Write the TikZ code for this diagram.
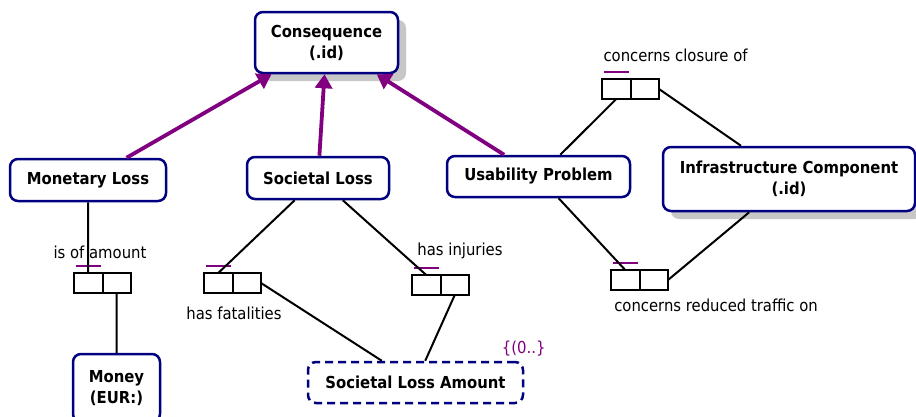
\documentclass[tikz,border=0pt]{standalone}
\usepackage{fontspec}
\setmainfont{DejaVu Sans Condensed}
\usepackage{tikz}
\usetikzlibrary{arrows.meta}
\usetikzlibrary{positioning}
\usetikzlibrary{shadows}
\definecolor{ormnavy}{HTML}{000080}
\definecolor{ormpurple}{HTML}{800080}
\newcommand{\ormsize}{\fontsize{16.5}{21}\selectfont}
\tikzstyle{entity}=[draw=ormnavy,line width=2.5pt,fill=white,rounded corners=8pt,font=\ormsize\bfseries,align=center,inner sep=2pt]
\tikzstyle{shade}=[drop shadow={shadow xshift=8pt,shadow yshift=-8pt,fill=black!22,opacity=1}]
\tikzstyle{valuetype}=[entity,dash pattern=on 8pt off 5pt]
\tikzstyle{cell}=[draw,line width=2pt,minimum width=28.5pt,minimum height=20pt,inner sep=0pt,outer sep=0pt]
\tikzstyle{ubar}=[draw=ormpurple,line width=2pt]
\tikzstyle{link}=[line width=2pt]
\tikzstyle{subtype}=[draw=ormpurple,line width=3.8pt,-{Triangle[length=14pt,width=17pt]}]

\begin{document}
\begin{tikzpicture}[x=1pt,y=-1pt,font=\ormsize]
\useasboundingbox (0,0) rectangle (916,416);
% entity and value types
\node [entity,shade,minimum width=143pt,minimum height=61pt] (cons) at (326.5,42.5) {Consequence\\(.id)};
\node [entity,minimum width=156pt,minimum height=42pt] (mon) at (88,180) {Monetary Loss};
\node [entity,minimum width=142pt,minimum height=42pt] (soc) at (318,178) {Societal Loss};
\node [entity,minimum width=183pt,minimum height=41pt] (usab) at (538.5,176.5) {Usability Problem};
\node [entity,shade,minimum width=252pt,minimum height=64pt] (infra) at (789,179) {Infrastructure Component\\(.id)};
\node [entity,minimum width=87pt,minimum height=68pt] (money) at (116.5,388) {Money\\(EUR:)};
\node [valuetype,minimum width=215pt,minimum height=41pt] (sla) at (415.5,382.5) {Societal Loss Amount};
\node [ormpurple,anchor=east] (slarange) at (549,349) {\{(0..\}};

% fact types
\node [cell] (amt1) at (88.25,283) {};
\node [cell,right=0pt of amt1] (amt2) {};
\node [cell] (fat1) at (218.25,283) {};
\node [cell,right=0pt of fat1] (fat2) {};
\node [cell] (inj1) at (426.25,285) {};
\node [cell,right=0pt of inj1] (inj2) {};
\node [cell] (clos1) at (616.25,89) {};
\node [cell,right=0pt of clos1] (clos2) {};
\node [cell] (traf1) at (625.25,280) {};
\node [cell,right=0pt of traf1] (traf2) {};

\foreach \r in {amt1,fat1,inj1,clos1,traf1}
  \draw [ubar] ([xshift=2pt,yshift=7pt]\r.north west) -- ([xshift=-2pt,yshift=7pt]\r.north east);

\node (amtlbl) at (100,252) {is of amount};
\node (fatlbl) at (234,313) {has fatalities};
\node (injlbl) at (460,251) {has injuries};
\node [anchor=west] (closlbl) at (600,55) {concerns closure of};
\node (traflbl) at (716,305) {concerns reduced traffic on};

% roles
\draw [link] (mon) -- (amt1.north);
\draw [link] (amt2.south) -- (money);
\draw [link] (soc) -- (fat1.north);
\draw [link] (fat2.east) -- (sla);
\draw [link] (soc) -- (inj1.north);
\draw [link] (inj2.south) -- (sla);
\draw [link] (clos1.south) -- (usab);
\draw [link] (clos2.east) -- (infra);
\draw [link] (usab) -- (traf1.north);
\draw [link] (traf2.east) -- (infra);

% subtypes
\draw [subtype] (mon) -- (cons);
\draw [subtype] (soc) -- (cons);
\draw [subtype] (usab) -- (cons);
\end{tikzpicture}
\end{document}
